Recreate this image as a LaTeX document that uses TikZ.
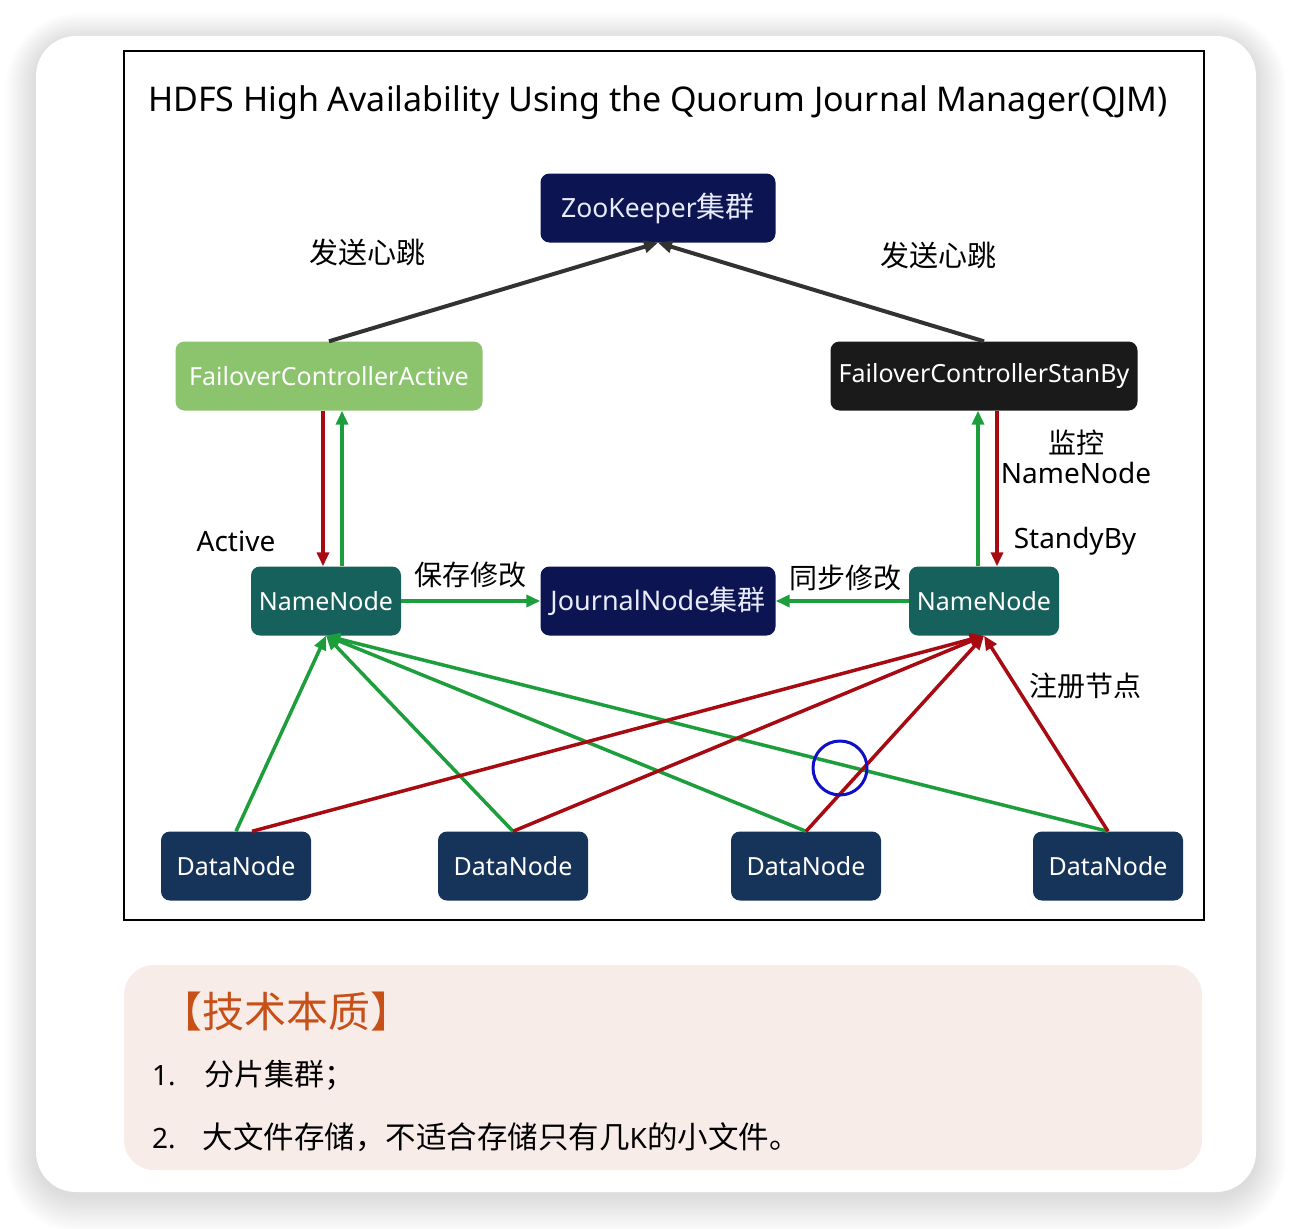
\documentclass[tikz,border=0pt]{standalone}
\usepackage{fontspec}
\setmainfont{Noto Sans}
\newfontfamily\cjk{Noto Sans CJK SC}
\usetikzlibrary{arrows.meta}
\definecolor{navy}{HTML}{0C1552}
\definecolor{teal}{HTML}{17615C}
\definecolor{dnblue}{HTML}{163459}
\definecolor{fcgreen}{HTML}{8CC46E}
\definecolor{fcblack}{HTML}{1A1A1A}
\definecolor{lgreen}{HTML}{1C9E3C}
\definecolor{lred}{HTML}{A80A12}
\definecolor{boxpink}{HTML}{F8ECE9}
\definecolor{orangetxt}{HTML}{C65017}
\definecolor{zktext}{HTML}{E8ECFA}
\definecolor{arrgray}{HTML}{323232}
\definecolor{circblue}{HTML}{1010C8}
\begin{document}
\begin{tikzpicture}[x=1pt,y=-1pt,
  box/.style={rounded corners=9pt, minimum height=69pt, inner sep=0pt, text=white, font=\fontsize{25}{28}\selectfont},
  zkbox/.style={box, fill=navy, minimum width=235pt, text=zktext},
  fcabox/.style={box, fill=fcgreen, minimum width=307pt},
  fcsbox/.style={box, fill=fcblack, minimum width=307pt},
  nnbox/.style={box, fill=teal, minimum width=150pt},
  dnbox/.style={box, fill=dnblue, minimum width=150pt},
  lbl/.style={font=\fontsize{28}{33}\selectfont, text=black, inner sep=0pt},
  cjklbl/.style={font=\cjk\fontsize{28}{32}\selectfont, text=black, inner sep=0pt},
  tip/.style={-{Triangle[length=14pt,width=12pt]}},
  grayarr/.style={tip, draw=arrgray, fill=arrgray, line width=4pt},
  greenarr/.style={tip, draw=lgreen, fill=lgreen, line width=3.5pt},
  redarr/.style={tip, draw=lred, fill=lred, line width=3.5pt}
]
\useasboundingbox (0,0) rectangle (1292,1228);
\fill[white] (0,0) rectangle (1292,1228);
% card shadow
\foreach \i in {1,...,34} {
  \fill[black, opacity=0.005, rounded corners=40pt+\i pt] (36-\i*0.9,36-\i*0.8+4) rectangle (1256+\i*0.9,1192+\i*1.1+4);
}
\fill[white, rounded corners=40pt] (36,36) rectangle (1256,1192);
% frame
\draw[line width=2pt, black] (124,51) rectangle (1204,920);
\node[font=\fontsize{34}{40}\selectfont, inner sep=0pt] (title) at (658,103) {HDFS High Availability Using the Quorum Journal Manager(QJM)};

% nodes
\node[zkbox, font=\fontsize{26.5}{30}\selectfont] (zk) at (658,208) {ZooKeeper{\cjk\fontsize{29}{30}\selectfont 集群}};
\node[fcabox] (fca) at (329,376) {FailoverControllerActive};
\node[fcsbox] (fcs) at (984,376) {FailoverControllerStanBy};
\node[nnbox] (nnl) at (326,601) {NameNode};
\node[zkbox, font=\fontsize{27}{30}\selectfont] (jn) at (658,601) {JournalNode{\cjk\fontsize{28}{30}\selectfont 集群}};
\node[nnbox] (nnr) at (984,601) {NameNode};
\node[dnbox] (dn1) at (236,866) {DataNode};
\node[dnbox] (dn2) at (513,866) {DataNode};
\node[dnbox] (dn3) at (806,866) {DataNode};
\node[dnbox] (dn4) at (1108,866) {DataNode};

% heartbeat
\draw[grayarr] (fca.north) -- (zk.south);
\draw[grayarr] (fcs.north) -- (zk.south);
\node[cjklbl, font=\cjk\fontsize{29}{32}\selectfont] (hb1) at (367,252) {发送心跳};
\node[cjklbl, font=\cjk\fontsize{29}{32}\selectfont] (hb2) at (938,255) {发送心跳};

% FC <-> NN
\draw[redarr] ([xshift=-6pt]fca.south) -- ([xshift=-6pt]fca.south |- nnl.north);
\draw[greenarr] ([xshift=13pt]fca.south |- nnl.north) -- ([xshift=13pt]fca.south);
\draw[greenarr] ([xshift=-6pt]fcs.south |- nnr.north) -- ([xshift=-6pt]fcs.south);
\draw[redarr] ([xshift=13pt]fcs.south) -- ([xshift=13pt]fcs.south |- nnr.north);
\node[lbl] (act) at (236,541) {Active};
\node[lbl] (stb) at (1075,541) {StandyBy};
\node[lbl, align=center] (mon) at (1076,457) {{\cjk 监控}\\[-3pt]NameNode};

% NN -> JN
\draw[greenarr] (nnl.east) -- (jn.west);
\draw[greenarr] (nnr.west) -- (jn.east);
\node[cjklbl] (save) at (470,575) {保存修改};
\node[cjklbl] (sync) at (845,578) {同步修改};

% DataNodes -> NN left (green)
\draw[greenarr] (dn1.north) -- (nnl.south);
\draw[greenarr] (dn2.north) -- (nnl.south);
\draw[greenarr] (dn3.north) -- (nnl.south);
\draw[greenarr] (dn4.north) -- (nnl.south);
% DataNodes -> NN right (red)
\draw[redarr] ([xshift=16pt]dn1.north) -- (nnr.south);
\draw[redarr] (dn2.north) -- (nnr.south);
\draw[redarr] (dn3.north) -- (nnr.south);
\draw[redarr] (dn4.north) -- (nnr.south);
\node[cjklbl] (reg) at (1085,686) {注册节点};

% highlight circle
\draw[line width=3pt, circblue] (840,768) circle (27pt);

% bottom box
\fill[boxpink, rounded corners=30pt] (124,965) rectangle (1202,1170);
\node[font=\cjk\fontsize{42}{46}\selectfont, text=orangetxt, anchor=west, inner sep=0pt] (ess) at (160,1012) {【技术本质】};
\node[font=\fontsize{28}{32}\selectfont, anchor=west, inner sep=0pt] (it1) at (152,1075) {1.\hspace{29pt}{\cjk\fontsize{30}{32}\selectfont 分片集群；}};
\node[font=\fontsize{28}{32}\selectfont, anchor=west, inner sep=0pt] (it2) at (152,1137) {2.\hspace{27pt}{\cjk\fontsize{30.5}{32}\selectfont 大文件存储，不适合存储只有几}K{\cjk\fontsize{30.5}{32}\selectfont 的小文件。}};
\end{tikzpicture}
\end{document}
